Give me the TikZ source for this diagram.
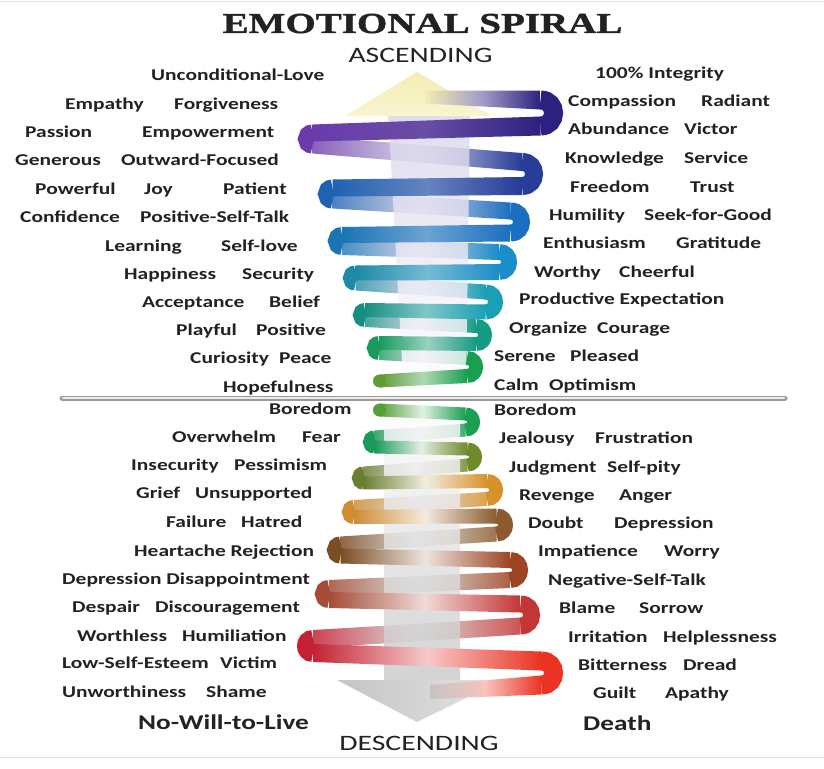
\documentclass[tikz,border=0pt]{standalone}
\usepackage{fontspec}
\usepackage{tikz}
\usepackage{xcolor}

\newfontfamily\wordfont{Carlito}[FakeStretch=1.3]
\newfontfamily\headfont{Liberation Serif}[FakeStretch=1.345, BoldFeatures={FakeBold=1.5}]
\newfontfamily\sidefont{Carlito}[FakeStretch=1.35]

\definecolor{ink}{HTML}{222222}
% upper coil, right and left turns
\definecolor{uR1}{HTML}{2D2180}
\definecolor{uL1}{HTML}{6C3AAB}
\definecolor{uR2}{HTML}{283C98}
\definecolor{uL2}{HTML}{1F62B2}
\definecolor{uR3}{HTML}{1B6FC0}
\definecolor{uL3}{HTML}{1B74B4}
\definecolor{uR4}{HTML}{1B8DC8}
\definecolor{uL4}{HTML}{1D8AA6}
\definecolor{uR5}{HTML}{1AA0B4}
\definecolor{uL5}{HTML}{178F80}
\definecolor{uR6}{HTML}{179C84}
\definecolor{uL6}{HTML}{189A5C}
\definecolor{uR7}{HTML}{1A9E52}
\definecolor{uL7}{HTML}{5F9C34}
% lower coil
\definecolor{dL0}{HTML}{55A03A}
\definecolor{dR1}{HTML}{1AA050}
\definecolor{dL1}{HTML}{1A9A5A}
\definecolor{dR2}{HTML}{6E8A2A}
\definecolor{dL2}{HTML}{6B7F33}
\definecolor{dR3}{HTML}{D8922C}
\definecolor{dL3}{HTML}{CF8C32}
\definecolor{dR4}{HTML}{8B5B2F}
\definecolor{dL4}{HTML}{7B4D24}
\definecolor{dR5}{HTML}{9D4523}
\definecolor{dL5}{HTML}{A44C36}
\definecolor{dR6}{HTML}{C43636}
\definecolor{dL6}{HTML}{C42234}
\definecolor{dR7}{HTML}{EA3322}
% arrows
\definecolor{headup}{HTML}{F3EDB2}
\definecolor{shaftup}{HTML}{D8D4EA}
\definecolor{shaftdn}{HTML}{C8C8C8}
\definecolor{headdn}{HTML}{C4C4C4}
\definecolor{backmid}{HTML}{D6D4E6}
\definecolor{backlow}{HTML}{DCDCDC}
\definecolor{divgray}{HTML}{9A9A9A}

% band: x1 y1 t1 x2 y2 t2 left mid right
\newcommand{\band}[9]{\shade[left color=#7,right color=#9,middle color=#8] (#1,{#2-#3/2}) -- (#4,{#5-#6/2}) -- (#4,{#5+#6/2}) -- (#1,{#2+#3/2}) -- cycle;}
% turns: x yupper ylower width color
\newcommand{\rturn}[5]{\draw[#5,line width=#4pt] (#1,#2) .. controls ({#1+2/3*(#3-#2)},#2) and ({#1+2/3*(#3-#2)},#3) .. (#1,#3);}
\newcommand{\lturn}[5]{\draw[#5,line width=#4pt] (#1,#2) .. controls ({#1-2/3*(#3-#2)},#2) and ({#1-2/3*(#3-#2)},#3) .. (#1,#3);}

\tikzset{
	word/.style={font=\wordfont\bfseries\fontsize{16.5}{18}\selectfont, text=ink, inner sep=0pt, anchor=base west},
	bigword/.style={font=\wordfont\bfseries\fontsize{21}{24}\selectfont, text=ink, inner sep=0pt, anchor=base west},
	headline/.style={font=\headfont\bfseries\fontsize{29}{32}\selectfont, text=ink, inner sep=0pt, anchor=base},
	sideline/.style={font=\sidefont\fontsize{22}{24}\selectfont, text=ink, inner sep=0pt, anchor=base}
}

\begin{document}
\begin{tikzpicture}[x=1pt,y=-1pt]
	\fill[white] (0,0) rectangle (824,768);
	\useasboundingbox (0,0) rectangle (824,768);
	\draw[gray!25, line width=1pt] (0,2) -- (824,2);
	\draw[gray!25, line width=1pt] (0,757) -- (824,757);
	
	% back strands, upper
	\band{312.5}{145}{17}{522}{162}{18}{uL1!80!white}{backmid}{uR2}
	\band{332.5}{200}{17}{510.5}{211}{17}{uL2!80!white}{backmid}{uR3}
	\band{342}{247}{16}{499}{252}{16}{uL3!80!white}{backmid}{uR4}
	\band{355.5}{283}{15}{485.5}{292}{15}{uL4!80!white}{backmid}{uR5}
	\band{365}{320}{14}{476}{326}{14}{uL5!80!white}{backmid}{uR6}
	\band{379}{353}{14}{467}{358}{14}{uL6!80!white}{backmid}{uR7}
	% back strands, lower
	\band{374.5}{437}{13}{465.5}{430}{13}{dL1!85!white}{backlow}{dR1!85!white}
	\band{363.5}{473}{13}{467.5}{465}{13}{dL2!85!white}{backlow}{dR2!85!white}
	\band{354}{507}{14}{487}{499}{14}{dL3!85!white}{backlow}{dR3!85!white}
	\band{340.5}{544}{15}{496.5}{534}{15}{dL4!85!white}{backlow}{dR4!85!white}
	\band{329}{588}{16}{510}{580}{16}{dL5!85!white}{backlow}{dR5!85!white}
	\band{313}{639}{18}{520.5}{626}{17}{dL6!85!white}{backlow}{dR6!85!white}
	
	% arrows
	\shade[top color=shaftup, bottom color=white, fill opacity=0.8] (388,112) -- (470,112) -- (466,396) -- (404,396) -- cycle;
	\shade[top color=headup, bottom color=headup!60!white] (345,116) -- (417,72) -- (492,116) -- cycle;
	\shade[top color=white, bottom color=shaftdn, fill opacity=0.8] (384,400) -- (460,400) -- (460,681) -- (384,681) -- cycle;
	\shade[left color=headdn, right color=headdn!45!white] (337,680) -- (417,722) -- (503,680) -- cycle;
	
	% front strands, upper
	\band{425}{97}{13}{540.5}{100}{19}{headup}{uR1!45!white}{uR1}
	\band{312.5}{133}{17}{540.5}{126}{19}{uL1}{uL1!50!uR1!85!white}{uR1}
	\band{332.5}{188}{17}{522}{186}{18}{uL2}{uL2!50!uR2!70!white}{uR2}
	\band{342}{235}{16}{510.5}{233}{17}{uL3}{uL3!50!uR3!65!white}{uR3}
	\band{355.5}{273}{15}{499}{272}{16}{uL4}{uL4!50!uR4!60!white}{uR4}
	\band{365}{310}{14}{485.5}{312}{15}{uL5}{uL5!50!uR5!55!white}{uR5}
	\band{379}{343}{14}{476}{344}{14}{uL6}{uL6!50!uR6!45!white}{uR6}
	\band{379.5}{381}{13}{467}{376}{14}{uL7}{uL7!50!uR7!40!white}{uR7}
	% front strands, lower
	\band{379.5}{410}{13}{465.5}{414}{13}{dL0}{dL0!50!dR1!15!white}{dR1}
	\band{374.5}{447}{13}{467.5}{449}{13}{dL1}{dL1!50!dR2!15!white}{dR2}
	\band{363.5}{483}{13}{487}{481}{14}{dL2}{dL2!50!dR3!15!white}{dR3}
	\band{354}{517}{14}{496.5}{516}{15}{dL3}{dL3!50!dR4!15!white}{dR4}
	\band{340.5}{556}{15}{510}{560}{16}{dL4}{dL4!50!dR5!15!white}{dR5}
	\band{329}{600}{16}{520.5}{604}{17}{dL5}{dL5!50!dR6!20!white}{dR6}
	\band{313}{653}{18}{541.5}{661}{19}{dL6}{dL6!50!dR7!25!white}{dR7}
	\band{430}{692}{14}{541.5}{685}{19}{headdn}{dR7!30!white}{dR7}
	
	% turns
	\rturn{540.5}{100}{126}{19}{uR1}
	\lturn{312.5}{133}{145}{17}{uL1}
	\rturn{522}{162}{186}{18}{uR2}
	\lturn{332.5}{188}{200}{17}{uL2}
	\rturn{510.5}{211}{233}{17}{uR3}
	\lturn{342}{235}{247}{16}{uL3}
	\rturn{499}{252}{272}{16}{uR4}
	\lturn{355.5}{273}{283}{15}{uL4}
	\rturn{485.5}{292}{312}{15}{uR5}
	\lturn{365}{310}{320}{14}{uL5}
	\rturn{476}{326}{344}{14}{uR6}
	\lturn{379}{343}{353}{14}{uL6}
	\rturn{467}{358}{376}{14}{uR7}
	\fill[uL7] (379.5,381) circle[radius=6.5pt];
	\fill[dL0] (379.5,410) circle[radius=6.5pt];
	\rturn{465.5}{414}{430}{13}{dR1}
	\lturn{374.5}{437}{447}{13}{dL1}
	\rturn{467.5}{449}{465}{13}{dR2}
	\lturn{363.5}{473}{483}{13}{dL2}
	\rturn{487}{481}{499}{14}{dR3}
	\lturn{354}{507}{517}{14}{dL3}
	\rturn{496.5}{516}{534}{15}{dR4}
	\lturn{340.5}{544}{556}{15}{dL4}
	\rturn{510}{560}{580}{16}{dR5}
	\lturn{329}{588}{600}{16}{dL5}
	\rturn{520.5}{604}{626}{17}{dR6}
	\lturn{313}{639}{653}{18}{dL6}
	\rturn{541.5}{661}{685}{19}{dR7}
	
	% divider
	\draw[divgray, line width=5pt, line cap=round] (62,398) -- (785,398);
	\draw[gray!15, line width=2pt, line cap=round] (63,398) -- (784,398);
	
	% titles
	\node[headline] (title) at (422.5,33) {EMOTIONAL SPIRAL};
	\node[sideline] (asc) at (420.5,63) {ASCENDING};
	\node[sideline] (desc) at (419,750) {DESCENDING};
	\node[bigword] (nowill) at (138,729) {No-Will-to-Live};
	\node[bigword] (death) at (583,730) {Death};
	
	% words, upper left
	\foreach \x/\y/\t [count=\i] in {151/81/Unconditional-Love, 65/109/Empathy, 174/109/Forgiveness,
		25/137/Passion, 142/137/Empowerment, 15/165/Generous, 121/165/Outward-Focused,
		35/194/Powerful, 144/194/Joy, 223/194/Patient, 20/222/Confidence, 140/222/Positive-Self-Talk,
		105/251/Learning, 221/251/Self-love, 124/279/Happiness, 242/279/Security,
		142/307/Acceptance, 269/307/Belief, 176/335/Playful, 256/335/Positive,
		190/363/Curiosity, 279/363/Peace, 223/392/Hopefulness}
		\node[word] (lu\i) at (\x,\y) {\t};
	% words, upper right
	\foreach \x/\y/\t [count=\i] in {595/78/100\% Integrity, 568/106/Compassion, 701/106/Radiant,
		568/134/Abundance, 684/134/Victor, 565/163/Knowledge, 684/163/Service,
		570/192/Freedom, 690/192/Trust, 549/220/Humility, 644/220/Seek-for-Good,
		543/248/Enthusiasm, 676/248/Gratitude, 534/277/Worthy, 619/277/Cheerful,
		519/304/Productive Expectation, 509/333/Organize, 597/333/Courage,
		494/361/Serene, 570/361/Pleased, 494/390/Calm, 549/390/Optimism}
		\node[word] (ru\i) at (\x,\y) {\t};
	% words, lower left
	\foreach \x/\y/\t [count=\i] in {269/414/Boredom, 172/442/Overwhelm, 302/442/Fear,
		131/470/Insecurity, 234/470/Pessimism, 136/498/Grief, 195/498/Unsupported,
		166/527/Failure, 241/527/Hatred, 134/556/Heartache Rejection,
		62/584/Depression Disappointment, 72/612/Despair, 155/612/Discouragement,
		77/641/Worthless, 182/641/Humiliation, 62/668/Low-Self-Esteem, 220/668/Victim,
		62/697/Unworthiness, 206/697/Shame}
		\node[word] (ll\i) at (\x,\y) {\t};
	% words, lower right
	\foreach \x/\y/\t [count=\i] in {494/415/Boredom, 499/443/Jealousy, 595/443/Frustration,
		509/472/Judgment, 607/472/Self-pity, 519/500/Revenge, 619/500/Anger,
		528/528/Doubt, 614/528/Depression, 538/556/Impatience, 664/556/Worry,
		548/585/Negative-Self-Talk, 559/613/Blame, 639/613/Sorrow,
		568/642/Irritation, 663/642/Helplessness, 578/670/Bitterness, 683/670/Dread,
		593/698/Guilt, 665/698/Apathy}
		\node[word] (rl\i) at (\x,\y) {\t};
\end{tikzpicture}
\end{document}
